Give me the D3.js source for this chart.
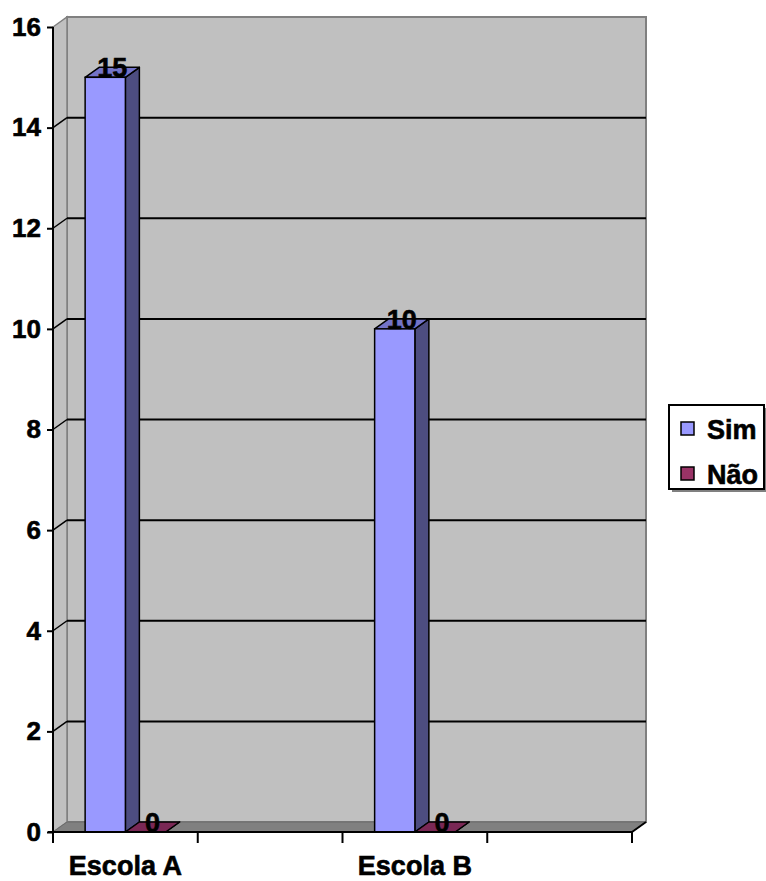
<!DOCTYPE html>
<html>
<head>
<meta charset="utf-8">
<script src="https://cdn.jsdelivr.net/npm/d3@7"></script>
<style>
  html, body { margin: 0; padding: 0; background: #ffffff; }
  svg { display: block; font-family: "Liberation Sans", Arial, sans-serif; font-weight: bold; }
</style>
</head>
<body>
<svg id="chart" width="766" height="881"></svg>
<script>
// ---- data ----
const categories = ["Escola A", "", "Escola B", ""];
const seriesNames = ["Sim", "Não"];
const simValues = [15, null, 10, null];
const naoValues = [0, null, 0, null];
const yTicks = [0, 2, 4, 6, 8, 10, 12, 14, 16];
const seriesColors = {
  "Sim": { front: "#9999ff", top: "#7373c8", side: "#4d4d80" },
  "Não": { front: "#993366", top: "#7a2855", side: "#4d1a33" }
};

// ---- layout ----
const svg = d3.select("#chart");
const FONT = "'Liberation Sans', Arial, sans-serif";
const DX = 14, DY = -10;           // depth offset
const x0 = 53, x1 = 632;            // front axis extent
const y = d3.scaleLinear().domain([0, 16]).range([832, 27]);
const x = d3.scaleBand().domain(d3.range(categories.length)).range([x0, x1]).padding(0);
const gap = x.bandwidth() * 0.222;
const xs = d3.scaleBand().domain(seriesNames).range([gap, x.bandwidth() - gap]).padding(0);

const g = svg.append("g");

// back wall
g.append("rect")
  .attr("x", x0 + DX).attr("y", y(16) + DY)
  .attr("width", x1 - x0).attr("height", y(0) - y(16))
  .attr("fill", "#c0c0c0").attr("stroke", "#808080").attr("stroke-width", 2);

// left side wall
g.append("polygon")
  .attr("points", [[x0, y(16)], [x0 + DX, y(16) + DY], [x0 + DX, y(0) + DY], [x0, y(0)]].map(p => p.join(",")).join(" "))
  .attr("fill", "#c0c0c0").attr("stroke", "#808080").attr("stroke-width", 1.5);

// floor
g.append("polygon")
  .attr("points", [[x0, y(0)], [x0 + DX, y(0) + DY], [x1 + DX, y(0) + DY], [x1, y(0)]].map(p => p.join(",")).join(" "))
  .attr("fill", "#808080").attr("stroke", "#6a6a6a").attr("stroke-width", 1);

// gridlines on back and side walls
const grid = yTicks.filter(v => v > 0 && v < 16);
g.selectAll(".gridback").data(grid).enter().append("line")
  .attr("x1", x0 + DX).attr("x2", x1 + DX)
  .attr("y1", d => y(d) + DY).attr("y2", d => y(d) + DY)
  .attr("stroke", "#000").attr("stroke-width", 2);
g.selectAll(".gridside").data(grid).enter().append("line")
  .attr("x1", x0).attr("x2", x0 + DX)
  .attr("y1", d => y(d)).attr("y2", d => y(d) + DY)
  .attr("stroke", "#000").attr("stroke-width", 1.5);

// bars
const bars = [];
categories.forEach((c, i) => {
  [["Sim", simValues[i]], ["Não", naoValues[i]]].forEach(([s, v]) => {
    if (v === null || v === undefined) return;
    bars.push({ i, s, v });
  });
});
const barG = g.append("g");
bars.forEach(b => {
  const xl = x(b.i) + xs(b.s), xr = xl + xs.bandwidth();
  const yt = y(b.v), yb = y(0);
  const col = seriesColors[b.s];
  const pts = a => a.map(p => p.join(",")).join(" ");
  barG.append("polygon")
    .attr("points", pts([[xr, yt], [xr + DX, yt + DY], [xr + DX, yb + DY], [xr, yb]]))
    .attr("fill", col.side).attr("stroke", "#000").attr("stroke-width", 1.5).attr("stroke-linejoin", "round");
  barG.append("polygon")
    .attr("points", pts([[xl, yt], [xl + DX, yt + DY], [xr + DX, yt + DY], [xr, yt]]))
    .attr("fill", col.top).attr("stroke", "#000").attr("stroke-width", 1.5).attr("stroke-linejoin", "round");
  if (yb - yt > 0) {
    barG.append("rect")
      .attr("x", xl).attr("y", yt).attr("width", xr - xl).attr("height", yb - yt)
      .attr("fill", col.front).attr("stroke", "#000").attr("stroke-width", 1.5);
  }
});

function boldText(sel, size) {
  sel.attr("font-size", size).attr("font-weight", "bold").attr("fill", "#000")
    .attr("font-family", FONT).attr("stroke", "#000").attr("stroke-width", 0.6);
}

// axes
const yAxis = d3.axisLeft(y).tickValues(yTicks).tickSize(6).tickPadding(6).tickFormat(d3.format("d"));
const ya = svg.append("g").attr("transform", `translate(${x0},0)`).call(yAxis);
ya.select(".domain").attr("stroke", "#000").attr("stroke-width", 2).attr("d", `M0,${y(16)}V${y(0)}`);
ya.selectAll(".tick line").attr("stroke", "#000").attr("stroke-width", 2);
boldText(ya.selectAll(".tick text"), 26);

const xAxis = d3.axisBottom(x).tickSize(0).tickFormat(i => categories[i]);
const xa = svg.append("g").attr("transform", `translate(0,${y(0)})`).call(xAxis);
xa.select(".domain").attr("stroke", "#000").attr("stroke-width", 2).attr("d", `M${x0 - 5},0H${x1}`);
boldText(xa.selectAll(".tick text"), 27);
xa.selectAll(".tick text").attr("dy", 0).attr("y", 43);
// category boundary ticks
const bounds = d3.range(categories.length + 1).map(i => i === categories.length ? x1 : x(i));
xa.selectAll(".bound").data(bounds).enter().append("line")
  .attr("x1", d => d).attr("x2", d => d).attr("y1", 0).attr("y2", 11)
  .attr("stroke", "#000").attr("stroke-width", 2);
// right floor edge
svg.append("line")
  .attr("x1", x1).attr("y1", y(0)).attr("x2", x1 + DX).attr("y2", y(0) + DY)
  .attr("stroke", "#000").attr("stroke-width", 2);

// value labels
const vl = svg.append("g").selectAll("text").data(bars).enter().append("text")
  .attr("x", d => x(d.i) + xs(d.s) + xs.bandwidth() / 2 + DX / 2)
  .attr("y", d => y(d.v))
  .attr("text-anchor", "middle")
  .text(d => d.v);
boldText(vl, 27);

// legend
const lg = svg.append("g");
lg.append("rect").attr("x", 672).attr("y", 408).attr("width", 95).attr("height", 84).attr("fill", "#808080");
lg.append("rect").attr("x", 669).attr("y", 405).attr("width", 95).attr("height", 84)
  .attr("fill", "#fff").attr("stroke", "#000").attr("stroke-width", 2);
seriesNames.forEach((s, k) => {
  const cy = 428.5 + k * 45;
  lg.append("rect").attr("x", 681).attr("y", cy - 6.5).attr("width", 13).attr("height", 13)
    .attr("fill", seriesColors[s].front).attr("stroke", "#000").attr("stroke-width", 1.5);
  const t = lg.append("text").attr("x", 707).attr("y", cy + 10).text(s);
  boldText(t, 27);
});
</script>
</body>
</html>
